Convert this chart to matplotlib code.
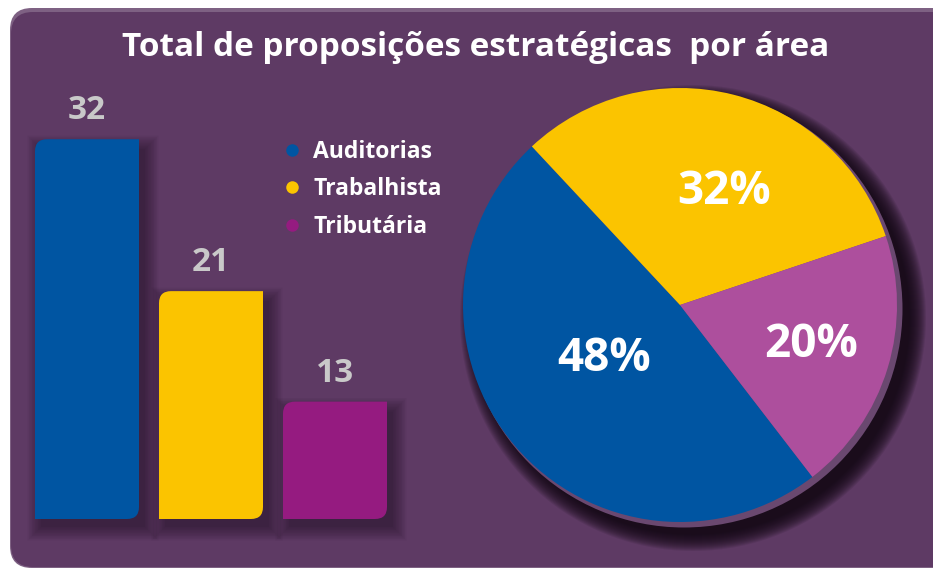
from __future__ import annotations

import matplotlib

matplotlib.use("Agg")
import matplotlib.pyplot as plt
import numpy as np
from matplotlib.lines import Line2D
from matplotlib.patches import Circle, FancyBboxPatch, PathPatch
from matplotlib.path import Path

AREAS = ["Auditorias", "Trabalhista", "Tributária"]
TOTALS = [32, 21, 13]
PCT_LABELS = ["48%", "32%", "20%"]
BAR_COLORS = ["#0055A2", "#FBC400", "#951B80"]
PIE_COLORS = ["#0055A2", "#FBC400", "#AD4F9D"]
TITLE = "Total de proposições estratégicas  por área"

BG = "#5E3A64"
FONT = ["Open Sans", "DejaVu Sans"]
W, H = 933, 570
BASE = 4.5  # bar axis does not start at zero in the original

plt.rcParams["font.family"] = FONT


def leaf_path(x0, y0, w, h, rx, ry) -> Path:
    # square bottom-left / top-right, rounded top-left / bottom-right
    verts = [
        (x0, y0),
        (x0 + w - rx, y0),
        (x0 + w, y0),
        (x0 + w, y0 + ry),
        (x0 + w, y0 + h),
        (x0 + rx, y0 + h),
        (x0, y0 + h),
        (x0, y0 + h - ry),
        (x0, y0),
    ]
    codes = [
        Path.MOVETO,
        Path.LINETO,
        Path.CURVE3,
        Path.CURVE3,
        Path.LINETO,
        Path.LINETO,
        Path.CURVE3,
        Path.CURVE3,
        Path.CLOSEPOLY,
    ]
    return Path(verts, codes)


fig = plt.figure(figsize=(W / 100, H / 100), dpi=100)
fig.patch.set_facecolor("white")

# background panel, pixel coordinates
bg = fig.add_axes([0, 0, 1, 1])
bg.set_xlim(0, W)
bg.set_ylim(H, 0)
bg.axis("off")
bg.add_patch(FancyBboxPatch((10, 8), W + 40, 560, boxstyle="round,pad=0,rounding_size=22",
                            facecolor="#7E6183", edgecolor="none"))
bg.add_patch(FancyBboxPatch((11, 12), W + 40, 555, boxstyle="round,pad=0,rounding_size=22",
                            facecolor=BG, edgecolor="none"))
bg.text(476, 48, TITLE, color="white", fontsize=24, fontweight="bold",
        ha="center", va="center")

# bars
px_x, px_y = 124, 13.81
bar_ax = fig.add_axes([25 / W, 51 / H, 372 / W, 476 / H])
bar_ax.set_xlim(-0.5, 2.5)
bar_ax.set_ylim(BASE, BASE + 476 / px_y)
bar_ax.axis("off")
x = np.arange(len(TOTALS))
bars = bar_ax.bar(x, TOTALS, width=104 / 124, color=BAR_COLORS)
rx, ry = 12 / px_x, 12 / px_y
for bar, value, color in zip(bars, TOTALS, BAR_COLORS):
    bar.set_visible(False)
    x0, w = bar.get_x(), bar.get_width()
    h = value - BASE
    # soft shadow, mostly to the lower right
    for k in range(10):
        g = k * 1.5
        sh = FancyBboxPatch((x0 + (6 - g) / px_x, BASE - (8 + g) / px_y),
                            w + 2 * g / px_x, h - 2 / px_y + 2 * g / px_y,
                            boxstyle="round,pad=0", facecolor="#1A0A1C",
                            edgecolor="none", alpha=0.055, clip_on=False)
        bar_ax.add_patch(sh)
    bar_ax.add_patch(PathPatch(leaf_path(x0, BASE, w, h, rx, ry), facecolor=color,
                               edgecolor="none", clip_on=False, zorder=3))
    bar_ax.text(bar.get_x() + w / 2, value + 12 / px_y, str(value), color="#C9C9C9",
                fontsize=24, fontweight="bold", ha="center", va="bottom")

handles = [Line2D([], [], marker="o", linestyle="none", markersize=9,
                  markerfacecolor=c, markeredgecolor="none") for c in BAR_COLORS]
fig.legend(handles, AREAS, loc="upper left", bbox_to_anchor=(258 / W, 1 - 119 / H),
           frameon=False, labelcolor="white", prop={"size": 16.5, "weight": "bold"},
           handletextpad=0.3, labelspacing=0.6, handlelength=1.2)

# pie
R = 217
scale = 1.25
pie_ax = fig.add_axes([(680 - R * scale) / W, (H - 305 - R * scale) / H,
                       2 * R * scale / W, 2 * R * scale / H])
u = 1 / R
for k in range(17):
    pie_ax.add_patch(Circle((13 * u, -13 * u), 1 + k * 1.0 * u, facecolor="#120813",
                            edgecolor="none", alpha=0.1, zorder=0))
pie_ax.add_patch(Circle((4 * u, -4 * u), 1 + 1.5 * u, facecolor="#6A4870",
                        edgecolor="none", zorder=1))
wedges, _ = pie_ax.pie(TOTALS, colors=PIE_COLORS, startangle=-52.4, counterclock=False,
                       radius=1, wedgeprops={"linewidth": 0, "zorder": 2})
label_r = [0.43, 0.56, 0.63]
label_shift = [-5, -7, 0]  # degrees, nudges off the wedge middle
for wedge, lab, r, d in zip(wedges, PCT_LABELS, label_r, label_shift):
    ang = np.deg2rad((wedge.theta1 + wedge.theta2) / 2 + d)
    pie_ax.text(r * np.cos(ang), r * np.sin(ang), lab, color="white", fontsize=33,
                fontweight="bold", ha="center", va="center", zorder=4)
pie_ax.set_xlim(-scale, scale)
pie_ax.set_ylim(-scale, scale)
pie_ax.set_aspect("equal")
pie_ax.axis("off")

fig.savefig("out.png", dpi=100, facecolor="white")
